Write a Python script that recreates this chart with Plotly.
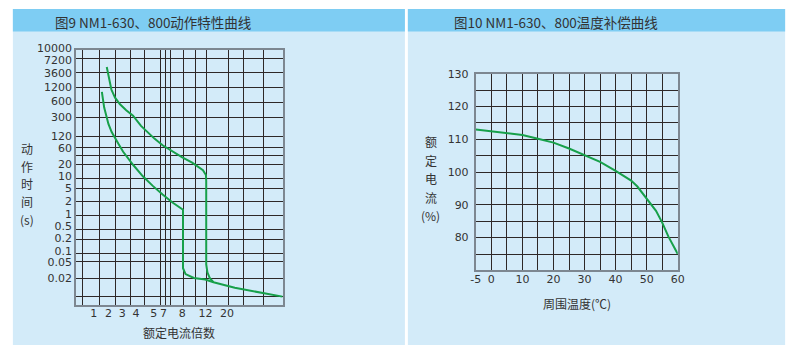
import numpy as np
import plotly.graph_objects as go

W, H = 800, 351

# ---------------- data: figure 9 (tripping characteristic) ----------------
# x: multiple of rated current, y: operating time (s)
upper_x = [1.85, 2.03, 2.18, 2.43, 2.81, 3.26, 3.76, 4.26, 4.64, 5.12, 6.77, 7.46, 8.0, 9.51,
           10.73, 11.49, 12.14, 12.22, 12.22, 12.57, 13.32, 14.5]
upper_y = [5000, 2200, 1087, 720, 529, 411, 326, 197, 139, 102, 70, 46.6, 31.9, 22.4,
           16.8, 14.1, 10.6, 7.5, 0.0446, 0.0282, 0.02, 0.0159]
lower_x = [1.47, 1.59, 1.64, 1.85, 2.0, 2.20, 2.43, 2.67, 3.06, 3.76, 4.36, 4.64, 4.94, 6.77,
           7.46, 8.10, 8.10, 8.47, 9.79, 11.96, 14.5, 23.97, 44.6, 73.8]
lower_y = [970, 609, 460, 302, 217, 144, 102, 77, 46.6, 19.4, 9.83, 7.36, 5.61, 3.23,
           1.90, 1.29, 0.036, 0.0256, 0.0203, 0.0186, 0.0159, 0.01147, 0.00862, 0.00686]

x9_ticks = [1, 2, 3, 4, 5, 7, 8, 12, 20]
x9_labels = ["1", "2", "3", "4", "5", "7", "8", "12", "20"]
y9_ticks = [10000, 7200, 3600, 1200, 600, 300, 120, 60, 20, 10, 5, 2, 1, 0.5, 0.2, 0.1, 0.05, 0.02]
y9_labels = ["10000", "7200", "3600", "1200", "600", "300", "120", "60", "20", "10", "5", "2",
             "1", "0.5", "0.2", "0.1", "0.05", "0.02"]

# ---------------- data: figure 10 (temperature compensation) -------------
temp = [-5, 0, 5, 10, 15, 20, 25, 30, 35, 40, 45, 47, 50, 53, 55, 57, 60]
current_pct = [113, 112.4, 111.8, 111.3, 110.2, 109, 107.2, 105.2, 103.1, 100.4, 97.4, 95.6,
               91.8, 88.2, 84.6, 80.3, 75]
x10_ticks = [-5, 0, 10, 20, 30, 40, 50, 60]
x10_labels = ["-5", "0", "10", "20", "30", "40", "50", "60"]
y10_ticks = [80, 90, 100, 110, 120, 130]

# ---------------- schematic (non-uniform) scale for figure 9 --------------
# positions along the printed axes (pixel-like axis units)
X9_TICK_POS = [90, 105, 119, 133, 151, 161, 180, 203.5, 225.5]
X9_GRID_POS = [79, 96, 112, 127, 142, 158, 163, 168, 181, 193, 205, 227, 242, 262]
Y9_TICK_POS = [43, 55, 68.5, 83, 97, 113.5, 132, 144.5, 161, 173, 185, 199, 212, 224, 236, 249, 261, 277]
Y9_GRID_POS = [53.2, 68, 83.3, 98, 113, 132.3, 144, 152, 161.3, 176, 185.3, 199.3, 213, 227, 238, 252, 260, 277.3, 296]


def log_scale(vals, pos):
    lv = np.log(np.asarray(vals, float))
    p = np.asarray(pos, float)
    order = np.argsort(lv)
    lv, p = lv[order], p[order]

    def f(v):
        l = np.log(np.asarray(v, float))
        out = np.interp(l, lv, p)
        lo = l < lv[0]
        hi = l > lv[-1]
        s0 = (p[1] - p[0]) / (lv[1] - lv[0])
        s1 = (p[-1] - p[-2]) / (lv[-1] - lv[-2])
        out[lo] = p[0] + (l[lo] - lv[0]) * s0
        out[hi] = p[-1] + (l[hi] - lv[-1]) * s1
        return out
    return f


fx = log_scale(x9_ticks, X9_TICK_POS)
fy = log_scale(y9_ticks, Y9_TICK_POS)

GREEN = "#17a04a"
GRID_DARK = "rgb(45,40,40)"
FRAME = "rgb(125,135,145)"
TXT = "#333333"
NUMFONT = dict(family="DejaVu Sans", size=11, color=TXT)
CJK = "Noto Sans CJK SC"

fig = go.Figure()
fig.add_trace(go.Scatter(x=fx(upper_x), y=fy(upper_y), mode="lines",
                         line=dict(color=GREEN, width=2), xaxis="x", yaxis="y",
                         hoverinfo="skip", showlegend=False))
fig.add_trace(go.Scatter(x=fx(lower_x), y=fy(lower_y), mode="lines",
                         line=dict(color=GREEN, width=2), xaxis="x", yaxis="y",
                         hoverinfo="skip", showlegend=False))
fig.add_trace(go.Scatter(x=temp, y=current_pct, mode="lines",
                         line=dict(color=GREEN, width=2), xaxis="x2", yaxis="y2",
                         hoverinfo="skip", showlegend=False))
# carrier for the tick-label axis of figure 9 (labels may sit just outside the frame)
fig.add_trace(go.Scatter(x=[None], y=[None], mode="lines", xaxis="x3", yaxis="y3",
                         hoverinfo="skip", showlegend=False))


def px_x(p):
    return p / W


def px_y(p):
    return 1 - p / H


# panels
shapes = []
for x0, x1 in [(8, 406), (409, 792)]:
    shapes.append(dict(type="rect", xref="paper", yref="paper", x0=px_x(x0), x1=px_x(x1),
                       y0=px_y(345), y1=px_y(3), fillcolor="#d3ebf9", line=dict(width=0),
                       layer="below"))
    shapes.append(dict(type="rect", xref="paper", yref="paper", x0=px_x(x0), x1=px_x(x1),
                       y0=px_y(26), y1=px_y(3), fillcolor="#7ecdf3", line=dict(width=0),
                       layer="below"))

common_axis = dict(showline=True, mirror=True, linecolor=FRAME, linewidth=2, zeroline=False,
                   ticks="", tickfont=NUMFONT, fixedrange=True)

fig.update_layout(
    width=W, height=H, margin=dict(l=0, r=0, t=0, b=0),
    paper_bgcolor="white", plot_bgcolor="rgba(0,0,0,0)",
    shapes=shapes, showlegend=False,
    xaxis=dict(domain=[px_x(72), px_x(282)], range=[72, 282], anchor="y",
               tickmode="array", tickvals=X9_TICK_POS, ticktext=x9_labels, showgrid=False,
               ticklabelstandoff=-3,
               minor=dict(tickmode="array", tickvals=X9_GRID_POS, showgrid=True,
                          gridcolor=GRID_DARK, gridwidth=1),
               **common_axis),
    yaxis=dict(domain=[px_y(304), px_y(45)], range=[304, 45], anchor="x",
               tickmode="array", tickvals=Y9_TICK_POS, showticklabels=False, showgrid=False,
               minor=dict(tickmode="array", tickvals=Y9_GRID_POS, showgrid=True,
                          gridcolor=GRID_DARK, gridwidth=1),
               **common_axis),
    xaxis3=dict(domain=[px_x(72), px_x(282)], range=[72, 282], anchor="y3", visible=False,
                showgrid=False, zeroline=False, fixedrange=True),
    yaxis3=dict(domain=[px_y(310), px_y(37)], range=[310, 37], anchor="free",
                position=px_x(72), side="left", showline=False, showgrid=False,
                zeroline=False, ticks="", tickfont=NUMFONT, fixedrange=True,
                ticklabelstandoff=4,
                tickmode="array", tickvals=Y9_TICK_POS, ticktext=y9_labels),
    xaxis2=dict(domain=[px_x(478), px_x(683)], range=[-5, 60], anchor="y2",
                tickmode="array", tickvals=x10_ticks, ticktext=x10_labels,
                showgrid=True, gridcolor=GRID_DARK, ticklabelstandoff=-3,
                minor=dict(tickmode="array", tickvals=list(range(5, 60, 10)), showgrid=True,
                           gridcolor=GRID_DARK, gridwidth=1),
                **common_axis),
    yaxis2=dict(domain=[px_y(269), px_y(69)], range=[70, 130], anchor="x2",
                tickmode="array", tickvals=y10_ticks, showgrid=True, gridcolor=GRID_DARK,
                ticklabelstandoff=3,
                minor=dict(tickmode="array", tickvals=list(range(75, 130, 10)), showgrid=True,
                           gridcolor=GRID_DARK, gridwidth=1),
                **common_axis),
)

ann = []
ann.append(dict(text="图9 NM1-630、800动作特性曲线", x=px_x(49), y=px_y(16), xanchor="left",
                yanchor="middle", font=dict(family=CJK, size=13.5, color=TXT)))
ann.append(dict(text="图10 NM1-630、800温度补偿曲线", x=px_x(454), y=px_y(16), xanchor="left",
                yanchor="middle", font=dict(family=CJK, size=13.5, color=TXT)))
for i, ch in enumerate(["动", "作", "时", "间", "(s)"]):
    ann.append(dict(text=ch, x=px_x(22), y=px_y(145 + i * 18), xanchor="center", yanchor="middle",
                    font=dict(family=CJK, size=12, color=TXT)))
for i, ch in enumerate(["额", "定", "电", "流", "(%)"]):
    ann.append(dict(text=ch, x=px_x(432), y=px_y(138 + i * 18.8), xanchor="center",
                    yanchor="middle", font=dict(family=CJK, size=12, color=TXT)))
ann.append(dict(text="额定电流倍数", x=px_x(177), y=px_y(332), xanchor="center", yanchor="middle",
                font=dict(family=CJK, size=12, color=TXT)))
ann.append(dict(text="周围温度(℃)", x=px_x(581), y=px_y(303), xanchor="center", yanchor="middle",
                font=dict(family=CJK, size=12, color=TXT)))
for a in ann:
    a.update(xref="paper", yref="paper", showarrow=False)
fig.update_layout(annotations=ann)

fig.write_html("out.html")
